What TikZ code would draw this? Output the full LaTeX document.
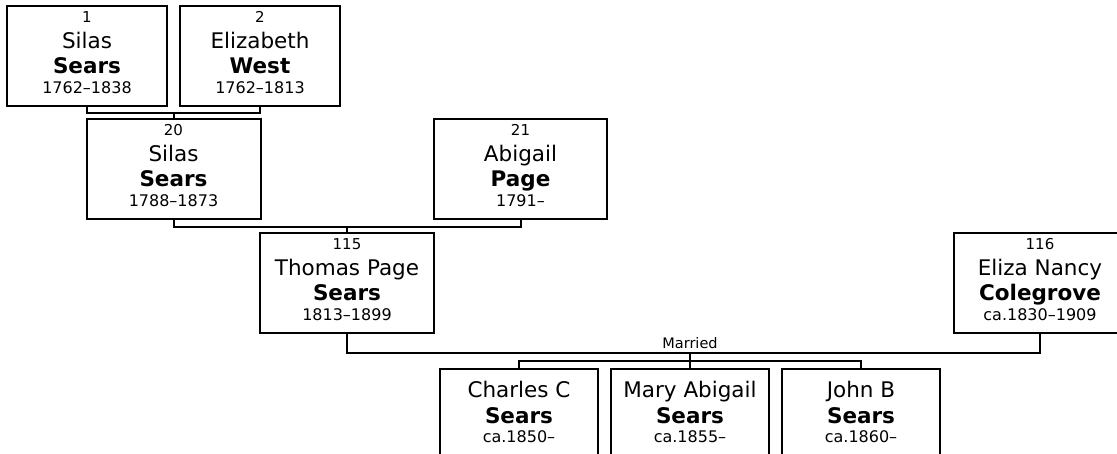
\documentclass[tikz,border=0pt]{standalone}
\usepackage{fontspec}
\setmainfont{DejaVu Sans}
\usetikzlibrary{calc}
\tikzset{
  pbox/.style={draw=black, line width=2pt, fill=white, rectangle, inner sep=0pt, minimum height=100pt},
  conn/.style={draw=black, line width=2pt},
  numtxt/.style={inner sep=0pt, anchor=base, font=\fontsize{15}{18}\selectfont},
  nametxt/.style={inner sep=0pt, anchor=base, font=\fontsize{21.5}{25}\selectfont},
  surtxt/.style={inner sep=0pt, anchor=base, font=\fontsize{21.5}{25}\selectfont\bfseries},
  datetxt/.style={inner sep=0pt, anchor=base, font=\fontsize{16}{19}\selectfont},
  marrtxt/.style={inner sep=0pt, anchor=base, font=\fontsize{14.5}{17}\selectfont},
}
\newcommand{\personbox}[8]{%
  \node[pbox, minimum width=#4pt, anchor=north] (#1) at (#2,#3) {};
  \node[numtxt] (#1-num) at ([yshift=-17pt]#1.north) {#5};
  \node[nametxt] (#1-given) at ([yshift=-43pt]#1.north) {#6};
  \node[surtxt] (#1-sur) at ([yshift=-68pt]#1.north) {#7};
  \node[datetxt] (#1-dates) at ([yshift=-88pt]#1.north) {#8};
}
\newcommand{\childbox}[6]{%
  \node[pbox, minimum width=#4pt, anchor=north] (#1) at (#2,#3) {};
  \node[nametxt] (#1-given) at ([yshift=-29pt]#1.north) {#5};
  \node[surtxt] (#1-sur) at ([yshift=-55pt]#1.north) {Sears};
  \node[datetxt] (#1-dates) at ([yshift=-74pt]#1.north) {#6};
}
\begin{document}
\begin{tikzpicture}[x=1pt, y=-1pt]
  \useasboundingbox (0,0) rectangle (1117,453);
  \clip (0,0) rectangle (1117,453);
  % generation 1
  \personbox{p1}{87}{5}{160}{1}{Silas}{Sears}{1762–1838}
  \personbox{p2}{260}{5}{160}{2}{Elizabeth}{West}{1762–1813}
  % generation 2
  \personbox{p20}{173.5}{118}{174}{20}{Silas}{Sears}{1788–1873}
  \personbox{p21}{520.5}{118}{173}{21}{Abigail}{Page}{1791–}
  % generation 3
  \personbox{p115}{347}{232}{174}{115}{Thomas Page}{Sears}{1813–1899}
  \personbox{p116}{1040}{232}{172}{116}{Eliza Nancy}{Colegrove}{ca.1830–1909}
  % children
  \childbox{c1}{519}{368}{158}{Charles C}{ca.1850–}
  \childbox{c2}{690}{368}{158}{Mary Abigail}{ca.1855–}
  \childbox{c3}{861}{368}{158}{John B}{ca.1860–}
  % connectors
  \coordinate (jA) at ($(p1.south)!0.5!(p2.south)+(0,6)$);
  \draw[conn] (p1.south) |- (jA) -| (p2.south);
  \draw[conn] (jA) -- (jA |- p20.north);
  \coordinate (jB) at ($(p20.south)!0.5!(p21.south)+(0,7)$);
  \draw[conn] (p20.south) |- (jB) -| (p21.south);
  \draw[conn] (jB) -- (jB |- p115.north);
  \coordinate (jM) at (690,353);
  \draw[conn] (p115.south) |- (jM) -| (p116.south);
  \node[marrtxt] (married) at (690,348) {Married};
  \coordinate (jC) at (690,361);
  \draw[conn] (jM) -- (jC);
  \draw[conn] (c1.north) |- (jC) -| (c3.north);
  \draw[conn] (jC) -- (c2.north);
\end{tikzpicture}
\end{document}
